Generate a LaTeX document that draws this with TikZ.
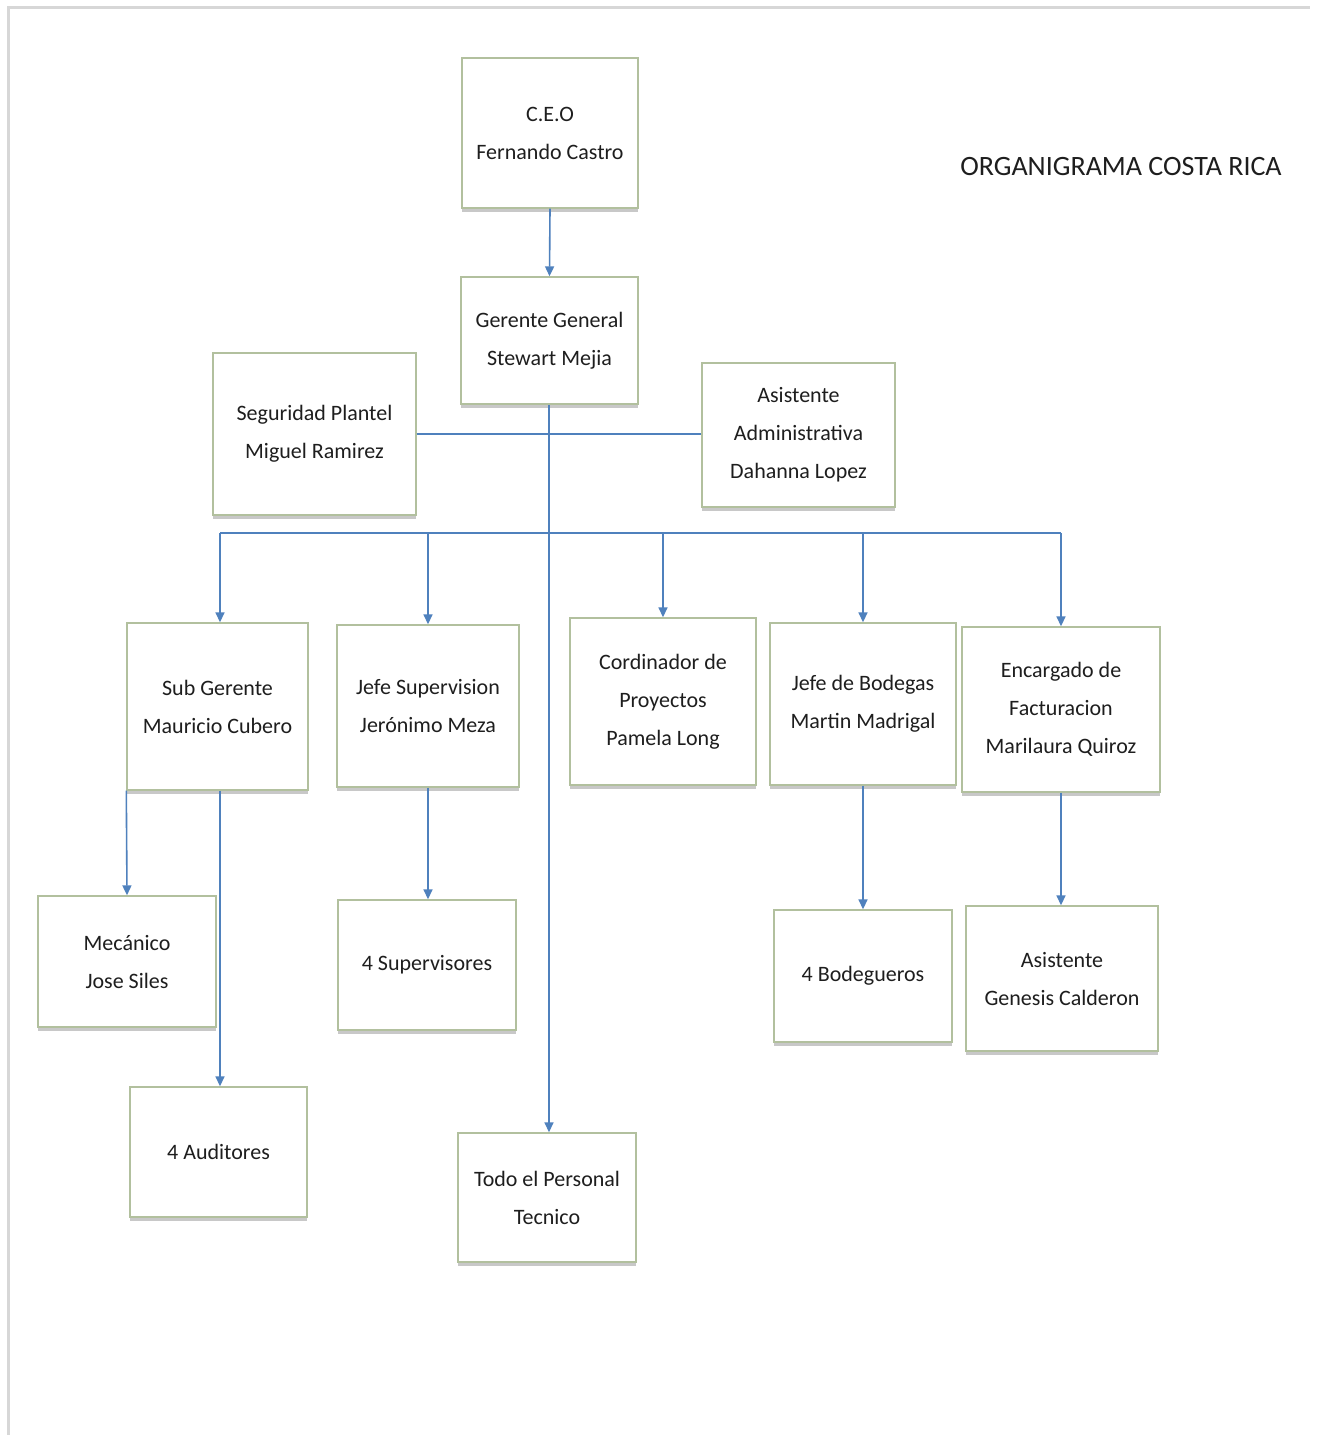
\documentclass[tikz,border=0pt]{standalone}
\usepackage{fontspec}
\setmainfont{Carlito}
\usetikzlibrary{arrows.meta,shadows}
\definecolor{lineblue}{RGB}{79,129,189}
\definecolor{boxedge}{RGB}{178,192,158}
\definecolor{txt}{RGB}{30,30,30}
\definecolor{frame}{RGB}{215,215,215}
\begin{document}
\begin{tikzpicture}[x=0.5pt,y=-0.5pt,
  orgbox/.style={draw=boxedge, line width=0.7pt, fill=white, align=center,
    font=\fontsize{11}{19}\selectfont, text=txt, inner sep=2pt,
    drop shadow={shadow xshift=0pt, shadow yshift=-2.2pt, fill=black!30, opacity=0.7}},
  link/.style={draw=lineblue, line width=0.8pt},
  arr/.style={link, -{Triangle[length=5pt,width=4.5pt]}}
]
\useasboundingbox (0,0) rectangle (1320,1435);
\fill[white] (0,0) rectangle (1320,1435);
\draw[frame, line width=1.5pt] (8,1435) -- (8,7) -- (1310,7);

\node[anchor=center, font=\fontsize{14}{16}\selectfont, text=txt] (title) at (1121,167) {ORGANIGRAMA COSTA RICA};

\node[orgbox, minimum width=88pt, minimum height=75pt] (ceo) at (550,133) {C.E.O\\Fernando Castro};
\node[orgbox, minimum width=88.5pt, minimum height=63.5pt] (gg) at (549.5,340.5) {Gerente General\\Stewart Mejia};
\node[orgbox, minimum width=101.5pt, minimum height=81pt] (seg) at (314.5,434) {Seguridad Plantel\\Miguel Ramirez};
\node[orgbox, minimum width=96.5pt, minimum height=72pt] (asis) at (798.5,435) {Asistente\\Administrativa\\Dahanna Lopez};

\node[orgbox, minimum width=90.5pt, minimum height=83.5pt] (sub) at (217.5,706.5) {Sub Gerente\\Mauricio Cubero};
\node[orgbox, minimum width=91pt, minimum height=81pt] (jsup) at (428,706) {Jefe Supervision\\Jerónimo Meza};
\node[orgbox, minimum width=93pt, minimum height=83.5pt] (cord) at (663,701.5) {Cordinador de\\Proyectos\\Pamela Long};
\node[orgbox, minimum width=93pt, minimum height=81pt] (jbod) at (863,704) {Jefe de Bodegas\\Martin Madrigal};
\node[orgbox, minimum width=99pt, minimum height=82.5pt] (enc) at (1061,709.5) {Encargado de\\Facturacion\\Marilaura Quiroz};

\node[orgbox, minimum width=89pt, minimum height=65.5pt] (mec) at (127,961.5) {Mecánico\\Jose Siles};
\node[orgbox, minimum width=88.5pt, minimum height=65pt] (aud) at (218.5,1152) {4 Auditores};
\node[orgbox, minimum width=89pt, minimum height=65pt] (sup4) at (427,965) {4 Supervisores};
\node[orgbox, minimum width=89pt, minimum height=66pt] (bod4) at (863,976) {4 Bodegueros};
\node[orgbox, minimum width=96pt, minimum height=72.5pt] (gen) at (1062,978.5) {Asistente\\Genesis Calderon};
\node[orgbox, minimum width=89pt, minimum height=64.5pt] (todo) at (547,1197.5) {Todo el Personal\\Tecnico};

\coordinate (busL) at (220,533);
\coordinate (busR) at (1061,533);
\coordinate (gx) at (549,404);

\draw[arr] (ceo.south) -- (gg.north);
\draw[arr] (gx |- gg.south) -- (gx |- todo.north);
\draw[link] (seg.east) -- (seg.east -| asis.west);
\draw[link] (busL) -- (busR);
\draw[arr] (busL) -- (busL |- sub.north);
\draw[arr] (jsup.north |- busL) -- (jsup.north);
\draw[arr] (cord.north |- busL) -- (cord.north);
\draw[arr] (jbod.north |- busL) -- (jbod.north);
\draw[arr] (busR) -- (busR |- enc.north);
\draw[arr] (sub.south west) -- (mec.north);
\draw[arr] (busL |- sub.south) -- (busL |- aud.north);
\draw[arr] (jsup.south) -- (jsup.south |- sup4.north);
\draw[arr] (jbod.south) -- (jbod.south |- bod4.north);
\draw[arr] (busR |- enc.south) -- (busR |- gen.north);
\end{tikzpicture}
\end{document}
